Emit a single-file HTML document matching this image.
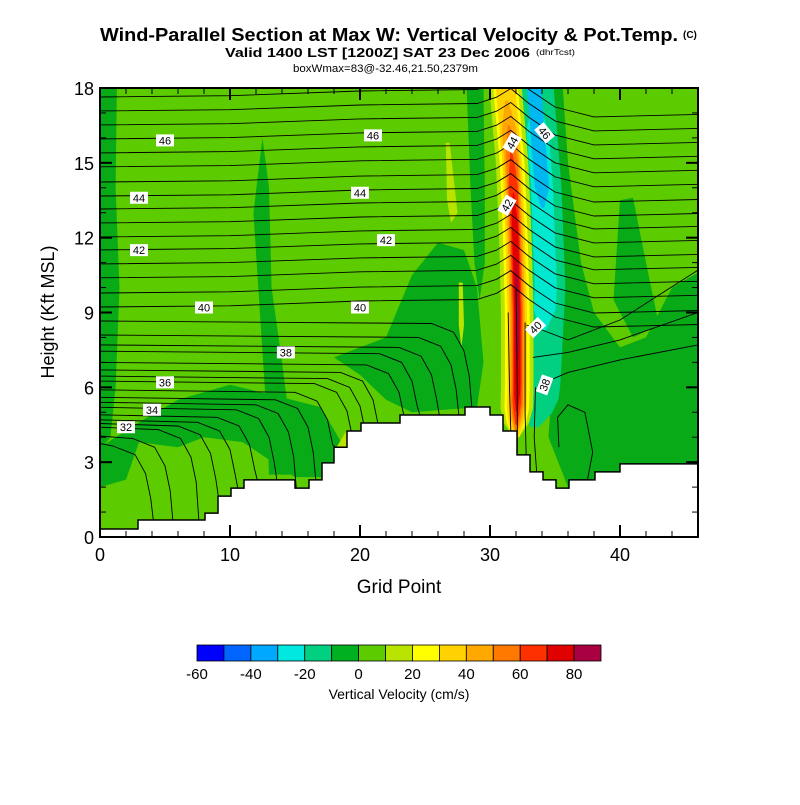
<!DOCTYPE html>
<html><head><meta charset="utf-8"><style>
body{margin:0;background:#fff;width:800px;height:800px;overflow:hidden}
svg text{font-family:"Liberation Sans",sans-serif}
</style></head><body>
<svg id="s" width="800" height="800" xmlns="http://www.w3.org/2000/svg">
<text x="100" y="41" font-size="18" font-weight="bold" textLength="578" lengthAdjust="spacingAndGlyphs">Wind-Parallel Section at Max W: Vertical Velocity &amp; Pot.Temp.</text>
<text x="683" y="38" font-size="10" font-weight="bold">(C)</text>
<text x="225" y="57" font-size="13" font-weight="bold" textLength="305" lengthAdjust="spacingAndGlyphs">Valid 1400 LST [1200Z] SAT 23 Dec 2006</text>
<text x="536" y="55" font-size="8" textLength="39" lengthAdjust="spacingAndGlyphs">(dhrTcst)</text>
<text x="293" y="72" font-size="11" textLength="185" lengthAdjust="spacingAndGlyphs">boxWmax=83@-32.46,21.50,2379m</text>
<g id="plot"></g>
<text transform="translate(54,312) rotate(-90)" text-anchor="middle" font-size="18">Height (Kft MSL)</text>
<text x="399" y="593" text-anchor="middle" font-size="19">Grid Point</text>
<g id="cbar"></g>
<text x="399" y="699" text-anchor="middle" font-size="14">Vertical Velocity (cm/s)</text>
</svg>
<script>
const xTicks=[0,10,20,30,40];
const yTicks=[0,3,6,9,12,15,18];
const cbEdges=[-60,-50,-40,-30,-20,-10,0,10,20,30,40,50,60,70,80,90];
const cbColors=["#0000ff","#0066ff","#00a8ff","#00e8e0","#00d080","#00b020","#5ccc00","#b8e400","#ffff00","#ffd200","#ffa800","#ff7800","#ff3000","#e00000","#a80040"];
const cbLabels=[-60,-40,-20,0,20,40,60,80];
// terrain steps: [startGrid, heightKft]
const terrainX=[0,2.92,8.08,9.08,10.08,11.08,15,16.08,17.08,18,19,20.08,23.08,28.08,30,31,32.08,33.08,34.08,35.08,36.08,38.08,40];
const terrainH=[0.32,0.68,0.96,1.64,1.96,2.29,1.96,2.29,2.97,3.6,4.25,4.57,4.89,5.21,4.89,4.25,3.29,2.61,2.29,1.96,2.29,2.61,2.93];
// dark green blobs [grid,kft]
const darkBlobs=[
 [[0,18],[1.3,18],[1.2,14],[1.5,10],[1.2,6],[0.8,4],[0,3.5]],
 [[11.8,13],[12.5,16],[13,14],[13.2,10],[14,7],[14.5,5],[15,2.5],[13,2.5],[12.8,5],[12.3,9]],
 [[0,3.6],[3,4.6],[6,5.5],[10,6.1],[14,5.6],[17,5.2],[19,3.4],[17.5,2.4],[15,2.4],[11,3.8],[8,4.0],[6,3.6],[3,3.8],[2,2.3],[0,2]],
 [[22,8],[24,10.5],[26,11.8],[28,11.5],[29,10],[29.5,7],[29,5.2],[24,5],[22,5.5],[20,6.5],[18,7.2],[20,7.6]],
 [[28.2,18],[29.5,18],[29.6,14],[29.6,11],[29.2,9.5],[28.8,11],[28.5,14]],
 [[34.5,18],[35.6,18],[36,15],[37,11],[38,9],[40,7.6],[42,8],[44,10],[46,10.6],[46,2.5],[40,2.5],[36,2],[34.5,4],[35,8],[35,14]],
 [[40,13.5],[41,13.6],[42,11],[43,8.5],[41,8],[39.5,9.5]]
];
const ygBlobs=[
 [[27.6,10.2],[27.9,10.2],[28.0,8.5],[27.8,7.6],[27.6,8.5]],
 [[26.6,15.8],[26.9,15.8],[27.5,13],[27,12.6],[26.7,13.5]],
 [[18.2,3.6],[19,4.3],[19.3,3.6],[18.6,3.2]]
];
// jet centre lines
const upK=[18,15,12,9,6,4.0];
const upX=[31.2,31.7,31.95,32.1,32.1,32.0];
const upColors=["#b8e400","#ffff00","#ffd200","#ffa800","#ff7800","#ff3000","#e00000","#a80040"];
const upHalf=[1.25,0.95,0.75,0.58,0.45,0.34,0.24,0.12];
const upTop=[18,18,18,17.5,16.5,15.5,13.8,11.2];
const upBot=[4.0,4.0,4.0,4.2,4.3,4.5,5,6.8];
const dnK=[18,14,10,6,4.2];
const dnX=[33.4,34.0,34.3,33.9,33.4];
const dnColors=["#00d080","#00e8d0","#00b8f0"];
const dnHalf=[1.5,0.85,0.55];
const dnTop=[18,17.5,18];
const dnBot=[4.4,8.3,13.2];
// upper theta contours
const upperLevels=[47.5,47,46.5,46,45.5,45,44.5,44,43.5,43,42.5,42,41.5,41,40.5,40];
const upperLeft=[17.64,17.08,16.52,15.96,15.4,14.84,14.23,13.67,13.15,12.59,12.03,11.51,10.95,10.39,9.78,9.22];
const shapeX=[0,10,20,29,30.5,31.6,33,35,38,46];
const shapeOff=[0,0.05,0.24,0.3,0.55,0.9,0.3,-0.4,-0.8,-0.7];
// lower-left contours (horizontal then plunging to terrain)
const lowerLevels=[39.5,39,38.5,38,37.5,37,36.5,36,35.5,35,34.5,34,33.5,33,32.5,32,31.5,31];
const lowerLeft=[8.66,8.1,7.7,7.45,7.0,6.7,6.45,6.25,5.9,5.6,5.4,5.2,4.9,4.7,4.55,4.4,4.05,3.75];
const lowerTurn=[28,27,25.5,24,23,21,20,19,17.5,16,14.5,13,11.5,10,8.5,7,5,3.5];
// east contours
const eastLines=[
 [[32.8,8.5],[34,8.3],[36,7.9],[40,8.7],[43,9.7],[46,10.7]],
 [[33.3,7.2],[36,7.4],[40,7.9],[46,9.0]],
 [[33.8,6.1],[36,6.6],[40,7.1],[46,7.7]],
 [[31.4,9],[31.5,6],[31.6,4.2]],
 [[32.0,10],[32.1,6],[32.1,3.4]],
 [[32.7,8.6],[32.7,5],[32.8,2.9]],
 [[33.5,6],[33.4,4],[33.6,2.5]],
 [[35.3,3.6],[35.2,4.8],[36,5.3],[37.3,5],[37.9,3.4],[37.5,2.3]]
];
const labels=[["46",5,15.9],["44",3,13.6],["42",3,11.5],["40",8,9.2],["38",14.3,7.4],["36",5,6.2],["34",4,5.1],["32",2,4.4],
 ["46",21,16.1],["44",20,13.8],["42",22,11.9],["40",20,9.2],["44",31.7,15.8,-60],["42",31.3,13.3,-60],["46",34.2,16.2,50],["40",33.5,8.4,-45],["38",34.2,6.1,-70]];

const NS="http://www.w3.org/2000/svg";
const X0=100,X1=698,Y0=537,Y1=88;
const sx=g=>X0+g/46*(X1-X0);
const sy=k=>Y0-k/18*(Y0-Y1);
function mk(tag,at,parent){const e=document.createElementNS(NS,tag);for(const k in at)e.setAttribute(k,at[k]);(parent||plot).appendChild(e);return e;}
const plot=document.getElementById('plot');
const defs=mk('defs',{});
const cp=mk('clipPath',{id:'cp'},defs);mk('rect',{x:X0,y:Y1,width:X1-X0,height:Y0-Y1},cp);
const g=mk('g',{'clip-path':'url(#cp)'});
const pts=a=>a.map(p=>sx(p[0]).toFixed(1)+','+sy(p[1]).toFixed(1)).join(' ');
let bg=mk('rect',{x:X0,y:Y1,width:X1-X0,height:Y0-Y1,fill:'#5ccc00'},g);


darkBlobs.forEach(b=>{const e=mk('polygon',{points:pts(b),fill:'#08aa18'},g);

});
ygBlobs.forEach(b=>{const e=mk('polygon',{points:pts(b),fill:'#b8e400'},g);

});
function interp(K,Xs,k){for(let i=0;i<K.length-1;i++){if(k<=K[i]&&k>=K[i+1]){const t=(K[i]-k)/(K[i]-K[i+1]);return Xs[i]+t*(Xs[i+1]-Xs[i]);}}return k>K[0]?Xs[0]:Xs[Xs.length-1];}
function jet(K,Xs,top,bot,hw,col,name){
 const L=[],R=[];const n=24;
 for(let i=0;i<=n;i++){const k=top-(top-bot)*i/n;let taper=1;
  if(top<18){taper=Math.min(1,(top-k)/1.5+0.2);}
  taper=Math.min(taper,(k-bot)/1.0+0.2,1);
  const c=interp(K,Xs,k);L.push([c-hw*taper,k]);R.unshift([c+hw*taper,k]);}
 const e=mk('polygon',{points:pts(L.concat(R)),fill:col},g);
 
 }
dnColors.forEach((c,i)=>jet(dnK,dnX,dnTop[i],dnBot[i],dnHalf[i],c,'downdraft-core'));
upColors.forEach((c,i)=>jet(upK,upX,upTop[i],upBot[i],upHalf[i],c,'updraft-core'));
function terrainAt(x){let h=terrainH[0];for(let i=0;i<terrainX.length;i++)if(x>=terrainX[i])h=terrainH[i];return h;}
const line=(a,name)=>{const e=mk('polyline',{points:pts(a),fill:'none',stroke:'#000','stroke-width':0.9},g);
 
 };
upperLevels.forEach((lv,i)=>{line(shapeX.map((x,j)=>[x,Math.min(18.5,upperLeft[i]+shapeOff[j])]),'theta-contour-'+lv);});
lowerLevels.forEach((lv,i)=>{const k=lowerLeft[i],t=lowerTurn[i];
 line([[0,k],[t-2.5,k-0.1],[t-0.8,k-0.45],[t,k-1.2],[t+0.4,k-2.2],[t+0.6,terrainAt(t+0.6)]],'theta-contour-'+lv);});
eastLines.forEach(a=>line(a,'theta-contour-east'));
const tp=[[0,-1]];terrainX.forEach((x,i)=>{const nx=i<terrainX.length-1?terrainX[i+1]:46.5;tp.push([x,terrainH[i]]);tp.push([nx,terrainH[i]]);});tp.push([46.5,-1]);
let te=mk('polygon',{points:pts(tp),fill:'#fff',stroke:'#000','stroke-width':1.5},g);


labels.forEach(l=>{const x=sx(l[1]),y=sy(l[2]),r=l[3]||0;
 const gg=mk('g',{transform:`translate(${x},${y}) rotate(${r})`},g);
 
 
 mk('rect',{x:-9,y:-6,width:18,height:12,fill:'#fff'},gg);
 const t=mk('text',{x:0,y:4,'text-anchor':'middle','font-size':11},gg);t.textContent=l[0];});
let fr=mk('rect',{x:X0,y:Y1,width:X1-X0,height:Y0-Y1,fill:'none',stroke:'#000','stroke-width':2});


for(let v=0;v<=46;v+=2){const maj=v%10==0,len=maj?12:6;
 mk('line',{x1:sx(v),x2:sx(v),y1:Y0,y2:Y0-len,stroke:'#000','stroke-width':maj?2:1});
 mk('line',{x1:sx(v),x2:sx(v),y1:Y1,y2:Y1+len,stroke:'#000','stroke-width':maj?2:1});}
for(let v=0;v<=18;v++){const maj=v%3==0,len=maj?12:6;
 mk('line',{x1:X0,x2:X0+len,y1:sy(v),y2:sy(v),stroke:'#000','stroke-width':maj?2:1});
 mk('line',{x1:X1,x2:X1-len,y1:sy(v),y2:sy(v),stroke:'#000','stroke-width':maj?2:1});}
xTicks.forEach(v=>{const t=mk('text',{x:sx(v),y:Y0+24,'text-anchor':'middle','font-size':18});t.textContent=v;
 
 });
yTicks.forEach(v=>{const t=mk('text',{x:X0-6,y:sy(v)+7,'text-anchor':'end','font-size':18});t.textContent=v;
 
 });
const cb=document.getElementById('cbar');const C0=197,C1=601;
const cx=v=>C0+(v-cbEdges[0])/(cbEdges[cbEdges.length-1]-cbEdges[0])*(C1-C0);
cbColors.forEach((c,i)=>{const r=mk('rect',{x:cx(cbEdges[i]),y:645,width:cx(cbEdges[i+1])-cx(cbEdges[i]),height:16,fill:c,stroke:'#000','stroke-width':0.8},cb);
 
 });
cbLabels.forEach(v=>{const t=mk('text',{x:cx(v),y:679,'text-anchor':'middle','font-size':15},cb);t.textContent=v;
 
 });
</script>
</body></html>
